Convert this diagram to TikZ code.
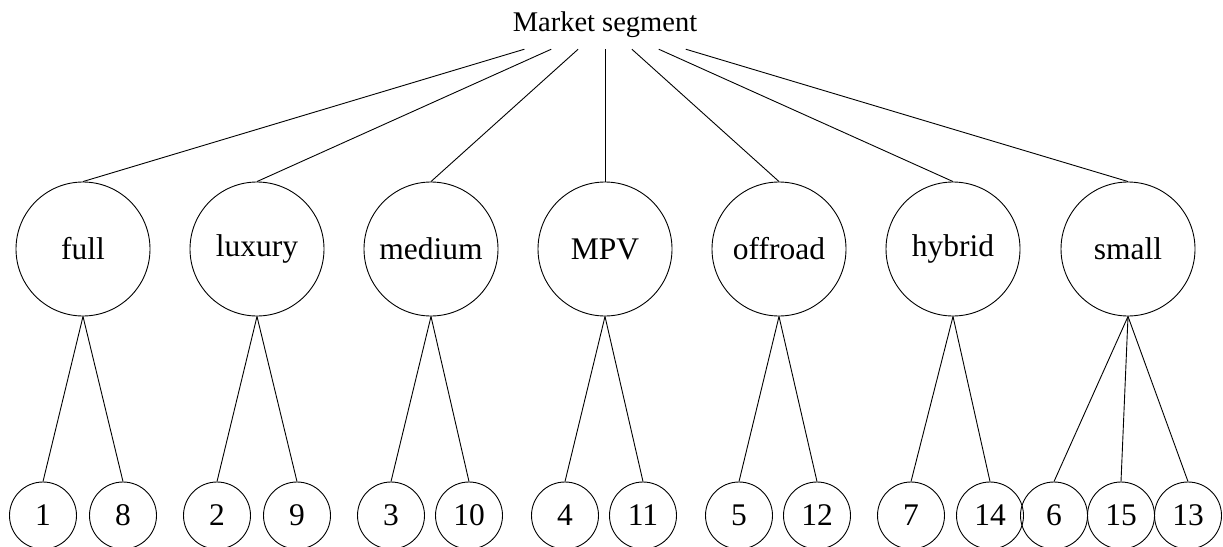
\documentclass[tikz,border=0pt]{standalone}
\usepackage{fontspec}
\setmainfont{Liberation Serif}
\begin{document}
\begin{tikzpicture}[x=1pt,y=-1pt,
  every node/.style={font=\fontsize{31.5}{38}\selectfont},
  rootbox/.style={rectangle,minimum height=48pt,minimum width=200pt,inner sep=0pt,font=\fontsize{28.5}{34}\selectfont},
  segcirc/.style={circle,draw,line width=0.9pt,minimum size=134pt,inner sep=0pt},
  carcirc/.style={circle,draw,line width=0.9pt,minimum size=67pt,inner sep=0pt},
  edge/.style={line width=0.9pt}]
\useasboundingbox (0,0) rectangle (1223,546);
\node[rootbox] (root) at (605,25) {Market segment};
\node[segcirc] (full) at (83,249) {full};
\node[segcirc] (luxury) at (257,249) {luxury};
\node[segcirc] (medium) at (431,249) {medium};
\node[segcirc] (mpv) at (605,249) {MPV};
\node[segcirc] (offroad) at (779,249) {offroad};
\node[segcirc] (hybrid) at (953,249) {hybrid};
\node[segcirc] (small) at (1128,249) {small};
\node[carcirc] (c1) at (43,515.5) {1};
\node[carcirc] (c8) at (123,515.5) {8};
\node[carcirc] (c2) at (217,515.5) {2};
\node[carcirc] (c9) at (297,515.5) {9};
\node[carcirc] (c3) at (391,515.5) {3};
\node[carcirc] (c10) at (469,515.5) {10};
\node[carcirc] (c4) at (565,515.5) {4};
\node[carcirc] (c11) at (643,515.5) {11};
\node[carcirc] (c5) at (739,515.5) {5};
\node[carcirc] (c12) at (817,515.5) {12};
\node[carcirc] (c7) at (911,515.5) {7};
\node[carcirc] (c14) at (990,515.5) {14};
\node[carcirc] (c6) at (1054,515.5) {6};
\node[carcirc] (c15) at (1121,515.5) {15};
\node[carcirc] (c13) at (1188,515.5) {13};
\foreach \s in {full,luxury,medium,mpv,offroad,hybrid,small}
  \draw[edge] (root) -- (\s.north);
\draw[edge] (full.south) -- (c1.north);
\draw[edge] (full.south) -- (c8.north);
\draw[edge] (luxury.south) -- (c2.north);
\draw[edge] (luxury.south) -- (c9.north);
\draw[edge] (medium.south) -- (c3.north);
\draw[edge] (medium.south) -- (c10.north);
\draw[edge] (mpv.south) -- (c4.north);
\draw[edge] (mpv.south) -- (c11.north);
\draw[edge] (offroad.south) -- (c5.north);
\draw[edge] (offroad.south) -- (c12.north);
\draw[edge] (hybrid.south) -- (c7.north);
\draw[edge] (hybrid.south) -- (c14.north);
\draw[edge] (small.south) -- (c6.north);
\draw[edge] (small.south) -- (c15.north);
\draw[edge] (small.south) -- (c13.north);
\end{tikzpicture}
\end{document}
